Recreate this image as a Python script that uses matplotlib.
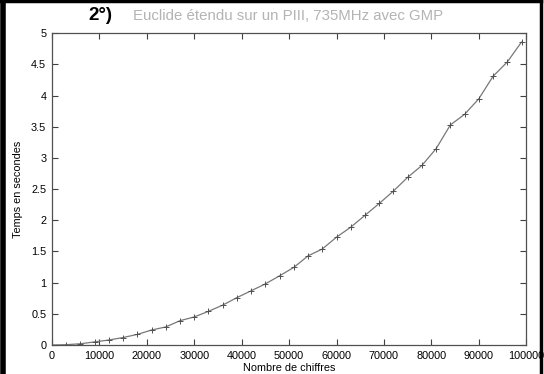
import matplotlib
matplotlib.use('Agg')
import matplotlib.pyplot as plt
from matplotlib.lines import Line2D

plt.rcParams['font.family'] = ['Liberation Sans', 'DejaVu Sans']

# temps de calcul de l'algorithme d'Euclide étendu (GMP, PIII 735MHz)
chiffres = [0, 3000, 6000, 9000, 12000, 15000, 18000, 21000, 24000, 27000,
            30000, 33000, 36000, 39000, 42000, 45000, 48000, 51000, 54000,
            57000, 60000, 63000, 66000, 69000, 72000, 75000, 78000, 81000,
            84000, 87000, 90000, 93000, 96000, 99000]
temps = [0.0, 0.005, 0.02, 0.05, 0.08, 0.12, 0.17, 0.24, 0.29, 0.39,
         0.45, 0.54, 0.64, 0.76, 0.87, 0.98, 1.11, 1.245, 1.43,
         1.54, 1.73, 1.89, 2.08, 2.27, 2.47, 2.69, 2.88, 3.15,
         3.53, 3.70, 3.95, 4.31, 4.54, 4.86]

xticks = list(range(0, 100001, 10000))
yticks = [0, 0.5, 1, 1.5, 2, 2.5, 3, 3.5, 4, 4.5, 5]

fig = plt.figure(figsize=(5.44, 3.74), dpi=100)
ax = fig.add_axes([0.0954, 0.0775, 0.872, 0.8335])

ax.plot(chiffres, temps, color='#787878', lw=0.9, marker='+',
        markersize=4, markeredgewidth=0.7, markeredgecolor='#505050')

ax.set_xlim(0, 100000)
ax.set_ylim(0, 5)
ax.set_xticks(xticks)
ax.set_xticklabels([str(t) for t in xticks])
ax.set_yticks(yticks)
ax.set_yticklabels(['0', '0.5', '1', '1.5', '2', '2.5', '3', '3.5', '4', '4.5', '5'])
ax.tick_params(direction='in', length=4, width=0.8, color='#404040',
               top=True, right=True, labelsize=7.8, pad=4)
for s in ax.spines.values():
    s.set_color('#505050')
    s.set_linewidth(0.9)

ax.set_xlabel('Nombre de chiffres', fontsize=7.8, labelpad=2)
ax.set_ylabel('Temps en secondes', fontsize=7.8, labelpad=6)

# titre en deux morceaux : numéro en gras, texte en gris
fig.text(0.162, 0.947, '2°)', fontsize=13.5, fontweight='bold', color='black',
         va='baseline')
fig.text(0.2445, 0.947, 'Euclide étendu sur un PIII, 735MHz avec GMP',
         fontsize=10.8, color='#b4b4b4', va='baseline')

# cadre noir autour de la diapositive
fig.add_artist(Line2D([0.005, 0.005], [0, 1], color='black', lw=4,
                      transform=fig.transFigure))
fig.add_artist(Line2D([0, 0.995], [0.996, 0.996], color='black', lw=2.5,
                      transform=fig.transFigure))
fig.add_artist(Line2D([0.9945, 0.9945], [0, 1], color='black', lw=2.5,
                      transform=fig.transFigure))

fig.savefig('out.png', dpi=100)
